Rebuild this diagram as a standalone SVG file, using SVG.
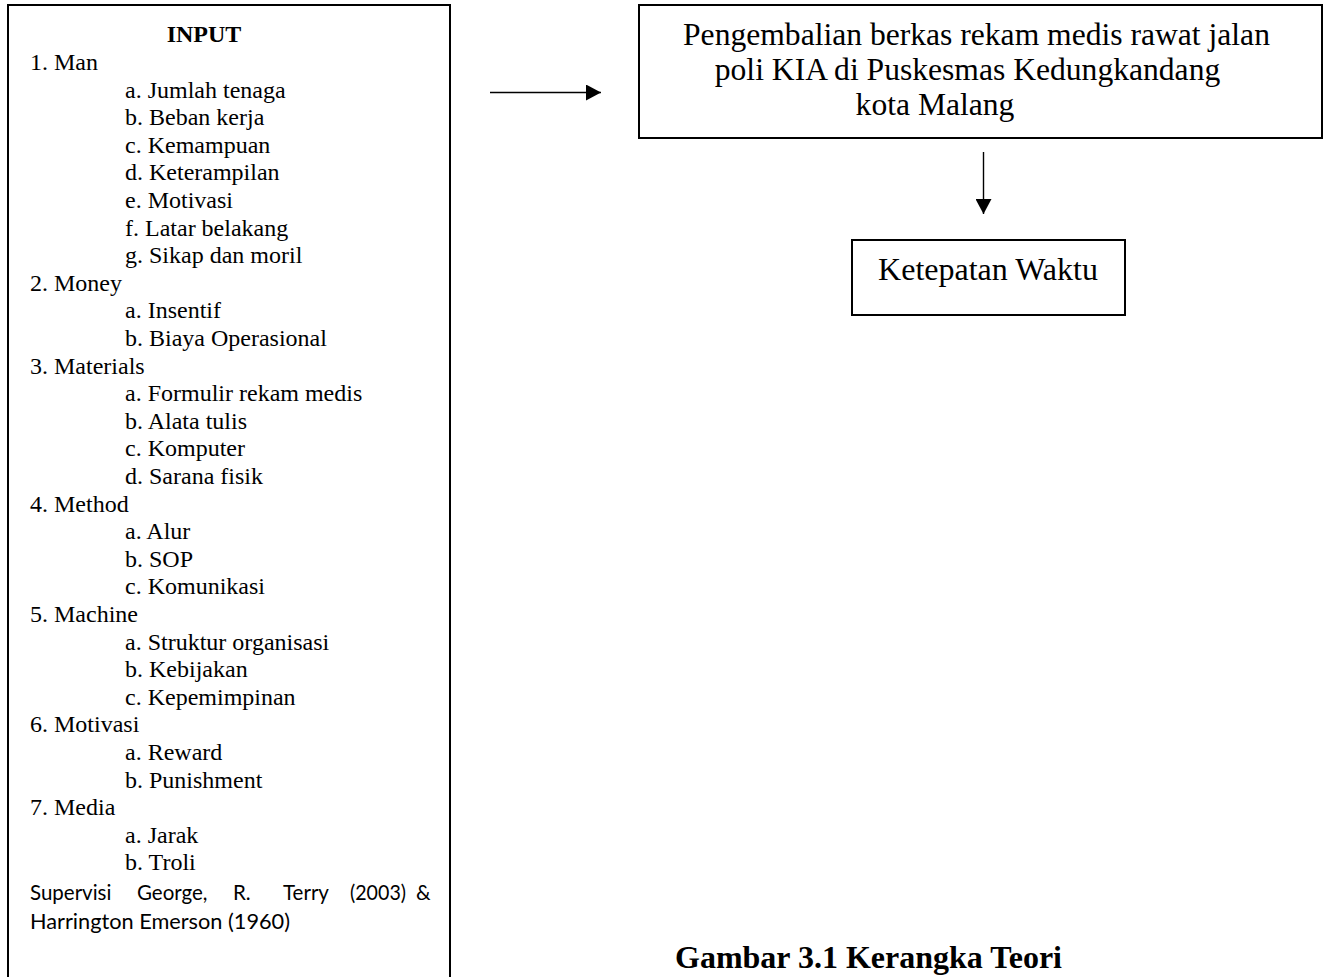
<svg xmlns="http://www.w3.org/2000/svg" width="1328" height="977" viewBox="0 0 1328 977">
<style>
.box{fill:#fff;stroke:#000;stroke-width:2}
.t{font-family:"Liberation Serif","Times New Roman",serif;font-size:24px;fill:#000}
.b{font-weight:bold}
.r{font-family:"Liberation Serif","Times New Roman",serif;font-size:31.6px;fill:#000}
.c{font-family:Lato,"Liberation Sans",sans-serif;font-size:20.5px;fill:#000}
.cap{font-family:"Liberation Serif","Times New Roman",serif;font-size:32px;font-weight:bold;fill:#000}
.line{stroke:#000;stroke-width:1.4;fill:none}
</style>
<defs>
<marker id="ah" markerUnits="userSpaceOnUse" markerWidth="16" markerHeight="16" refX="15" refY="8" orient="auto">
<path d="M0,0 L15,8 L0,16 Z" fill="#000"/>
</marker>
</defs>
<rect width="1328" height="977" fill="#fff"/>
<g id="input">
<rect class="box" x="8" y="5" width="442" height="990"/>
<text class="t b" x="204" y="42" text-anchor="middle">INPUT</text>
<text class="t" x="30" y="70">1. Man</text>
<text class="t" x="125" y="97.6">a. Jumlah tenaga</text>
<text class="t" x="125" y="125.2">b. Beban kerja</text>
<text class="t" x="125" y="152.8">c. Kemampuan</text>
<text class="t" x="125" y="180.4">d. Keterampilan</text>
<text class="t" x="125" y="208">e. Motivasi</text>
<text class="t" x="125" y="235.6">f. Latar belakang</text>
<text class="t" x="125" y="263.2">g. Sikap dan moril</text>
<text class="t" x="30" y="290.8">2. Money</text>
<text class="t" x="125" y="318.4">a. Insentif</text>
<text class="t" x="125" y="346">b. Biaya Operasional</text>
<text class="t" x="30" y="373.6">3. Materials</text>
<text class="t" x="125" y="401.2">a. Formulir rekam medis</text>
<text class="t" x="125" y="428.8">b. Alata tulis</text>
<text class="t" x="125" y="456.4">c. Komputer</text>
<text class="t" x="125" y="484">d. Sarana fisik</text>
<text class="t" x="30" y="511.6">4. Method</text>
<text class="t" x="125" y="539.2">a. Alur</text>
<text class="t" x="125" y="566.8">b. SOP</text>
<text class="t" x="125" y="594.4">c. Komunikasi</text>
<text class="t" x="30" y="622">5. Machine</text>
<text class="t" x="125" y="649.6">a. Struktur organisasi</text>
<text class="t" x="125" y="677.2">b. Kebijakan</text>
<text class="t" x="125" y="704.8">c. Kepemimpinan</text>
<text class="t" x="30" y="732.4">6. Motivasi</text>
<text class="t" x="125" y="760">a. Reward</text>
<text class="t" x="125" y="787.6">b. Punishment</text>
<text class="t" x="30" y="815.2">7. Media</text>
<text class="t" x="125" y="842.8">a. Jarak</text>
<text class="t" x="125" y="870.4">b. Troli</text>
<text class="c" y="900"><tspan x="30">Supervisi</tspan><tspan x="137">George,</tspan><tspan x="233">R.</tspan><tspan x="283">Terry</tspan><tspan x="350" textLength="56" lengthAdjust="spacingAndGlyphs">(2003)</tspan><tspan x="416">&amp;</tspan></text>
<text class="c" x="30" y="929" textLength="260" lengthAdjust="spacingAndGlyphs">Harrington Emerson (1960)</text>
</g>
<g id="pengembalian">
<rect class="box" x="639" y="5" width="683" height="133"/>
<text class="r" x="976.5" y="45" text-anchor="middle">Pengembalian berkas rekam medis rawat jalan</text>
<text class="r" x="967.5" y="80" text-anchor="middle">poli KIA di Puskesmas Kedungkandang</text>
<text class="r" x="935" y="115" text-anchor="middle">kota Malang</text>
</g>
<g id="ketepatan">
<rect class="box" x="852" y="240" width="273" height="75"/>
<text class="r" x="988" y="280" text-anchor="middle" style="font-size:32px">Ketepatan Waktu</text>
</g>
<g id="connectors">
<line class="line" x1="490" y1="92.5" x2="601" y2="92.5" marker-end="url(#ah)"/>
<line class="line" x1="983.5" y1="152" x2="983.5" y2="214" marker-end="url(#ah)"/>
</g>
<text class="cap" x="675" y="968">Gambar 3.1 Kerangka Teori</text>
</svg>
